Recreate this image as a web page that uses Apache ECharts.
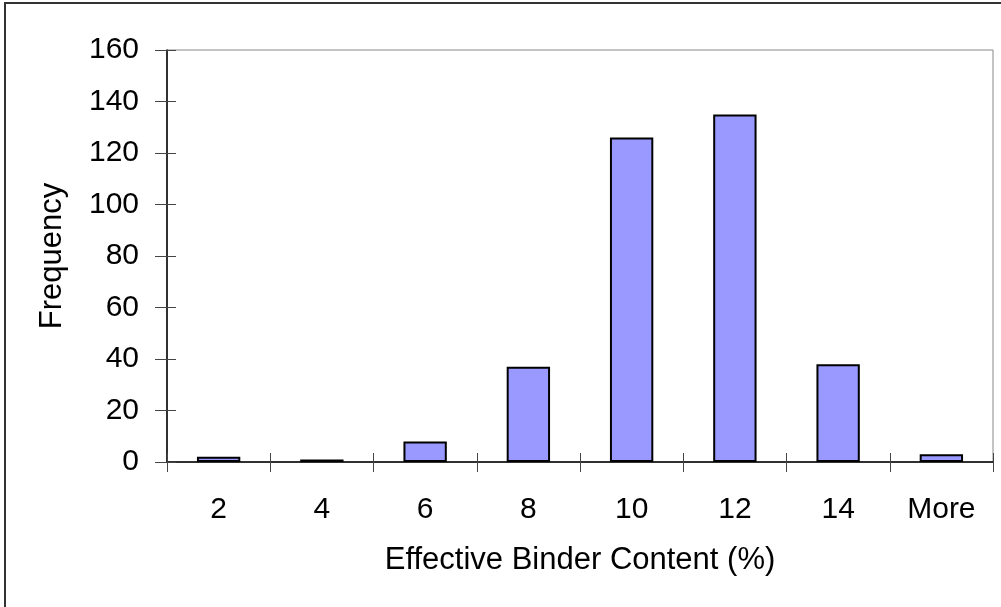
<!DOCTYPE html>
<html>
<head>
<meta charset="utf-8">
<script src="https://cdn.jsdelivr.net/npm/echarts@6/dist/echarts.min.js"></script>
<style>
  html, body { margin: 0; padding: 0; background: #fff; }
  #chart { width: 1001px; height: 607px; }
</style>
</head>
<body>
<div id="chart"></div>
<script>
// histogram bins and counts
var bins = ['2', '4', '6', '8', '10', '12', '14', 'More'];
var counts = [2, 1, 8, 37, 126, 135, 38, 3];
var yMax = 160;
var yStep = 20;

var font = 'Liberation Sans, Arial, sans-serif';

var chart = echarts.init(document.getElementById('chart'));

var option = {
    animation: false,
    backgroundColor: '#fff',
    // outer frame of the picture
    graphic: [
        {
            type: 'rect',
            shape: { x: 5, y: 3, width: 1010, height: 620 },
            style: { fill: 'none', stroke: '#333', lineWidth: 2 },
            silent: true
        }
    ],
    grid: {
        left: 167,
        top: 50,
        width: 826,
        height: 412,
        show: true,
        borderColor: '#888',
        borderWidth: 1,
        backgroundColor: 'transparent'
    },
    xAxis: [
        {
            type: 'category',
            data: bins,
            boundaryGap: true,
            axisLine: { lineStyle: { color: '#000', width: 1.5 } },
            axisTick: { show: true, length: 10, lineStyle: { color: '#444', width: 1 } },
            axisLabel: { fontFamily: font, fontSize: 30, color: '#000', margin: 33 },
            name: 'Effective Binder Content (%)',
            nameLocation: 'middle',
            nameGap: 83,
            nameTextStyle: { fontFamily: font, fontSize: 31, color: '#000' },
            splitLine: { show: false }
        },
        // second axis only to draw the tick part above the line
        {
            type: 'category',
            data: bins,
            position: 'bottom',
            axisLine: { show: false },
            axisTick: { show: true, inside: true, length: 9, lineStyle: { color: '#444', width: 1 } },
            axisLabel: { show: false },
            splitLine: { show: false }
        }
    ],
    yAxis: [
        {
            type: 'value',
            min: 0,
            max: yMax,
            interval: yStep,
            axisLine: { show: true, lineStyle: { color: '#000', width: 1.5 } },
            axisTick: { show: true, length: 12, lineStyle: { color: '#444', width: 1 } },
            axisLabel: { fontFamily: font, fontSize: 30, color: '#000', margin: 28 },
            splitLine: { show: false },
            name: 'Frequency',
            nameLocation: 'middle',
            nameGap: 99,
            nameTextStyle: { fontFamily: font, fontSize: 31, color: '#000' }
        },
        {
            type: 'value',
            min: 0,
            max: yMax,
            interval: yStep,
            position: 'left',
            axisLine: { show: false },
            axisTick: { show: true, inside: true, length: 9, lineStyle: { color: '#444', width: 1 } },
            axisLabel: { show: false },
            splitLine: { show: false }
        }
    ],
    series: [
        {
            type: 'bar',
            data: counts,
            barWidth: '42%',
            itemStyle: {
                color: '#9999ff',
                borderColor: '#000',
                borderWidth: 2
            }
        }
    ]
};

chart.setOption(option);
</script>
</body>
</html>
